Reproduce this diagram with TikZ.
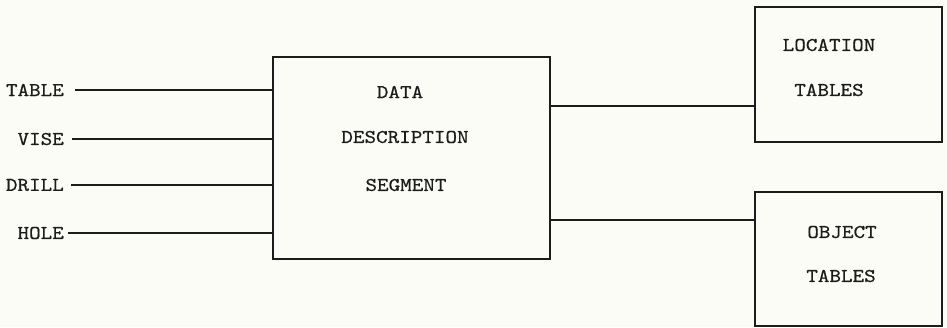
\documentclass[tikz,border=0pt]{standalone}
\usepackage{fontspec}
\newfontfamily\tw{lmmono10-regular}[Extension=.otf, FakeStretch=1.13, FakeBold=0.6]
\definecolor{paper}{HTML}{FCFCF7}
\definecolor{inkc}{HTML}{1C1C1C}
\begin{document}
\begin{tikzpicture}[x=1pt, y=-1pt,
  ink/.style={draw=inkc, line width=1.1pt},
  blockbox/.style={ink, rectangle, inner sep=0pt},
  tag/.style={font=\fontsize{19.5}{22}\tw, text=inkc, inner sep=0pt},
  wire/.style={ink}]
  % sheet
  \fill[paper] (0,0) rectangle (947,327);
  \useasboundingbox (0,0) rectangle (947,327);

  % blocks
  \node[blockbox, minimum width=277pt, minimum height=202pt] (dds) at (411.5,158) {};
  \node[blockbox, minimum width=187pt, minimum height=135pt] (loc) at (848.5,74.5) {};
  \node[blockbox, minimum width=187pt, minimum height=134pt] (obj) at (848.5,259) {};

  % block titles
  \node[tag] (ddsA) at (400,92)  {DATA};
  \node[tag] (ddsB) at (405,137) {DESCRIPTION};
  \node[tag] (ddsC) at (406,185) {SEGMENT};
  \node[tag] (locA) at (829,45)  {LOCATION};
  \node[tag] (locB) at (829,90)  {TABLES};
  \node[tag] (objA) at (842,232) {OBJECT};
  \node[tag] (objB) at (841,276) {TABLES};

  % inputs
  \node[tag, anchor=east] (tbl) at (64,90)  {TABLE};
  \node[tag, anchor=east] (vis) at (64,139) {VISE};
  \node[tag, anchor=east] (drl) at (64,185) {DRILL};
  \node[tag, anchor=east] (hol) at (64,233) {HOLE};

  \draw[wire] ([xshift=11pt]tbl.east) -- (tbl.east -| dds.west);
  \draw[wire] ([xshift=8pt]vis.east)  -- (vis.east -| dds.west);
  \draw[wire] ([xshift=7pt]drl.east)  -- (drl.east -| dds.west);
  \draw[wire] ([xshift=4pt]hol.east)  -- (hol.east -| dds.west);

  % outputs
  \draw[wire] (dds.east |- 0,106) -- (loc.west |- 0,106);
  \draw[wire] (dds.east |- 0,220) -- (obj.west |- 0,220);
\end{tikzpicture}
\end{document}
